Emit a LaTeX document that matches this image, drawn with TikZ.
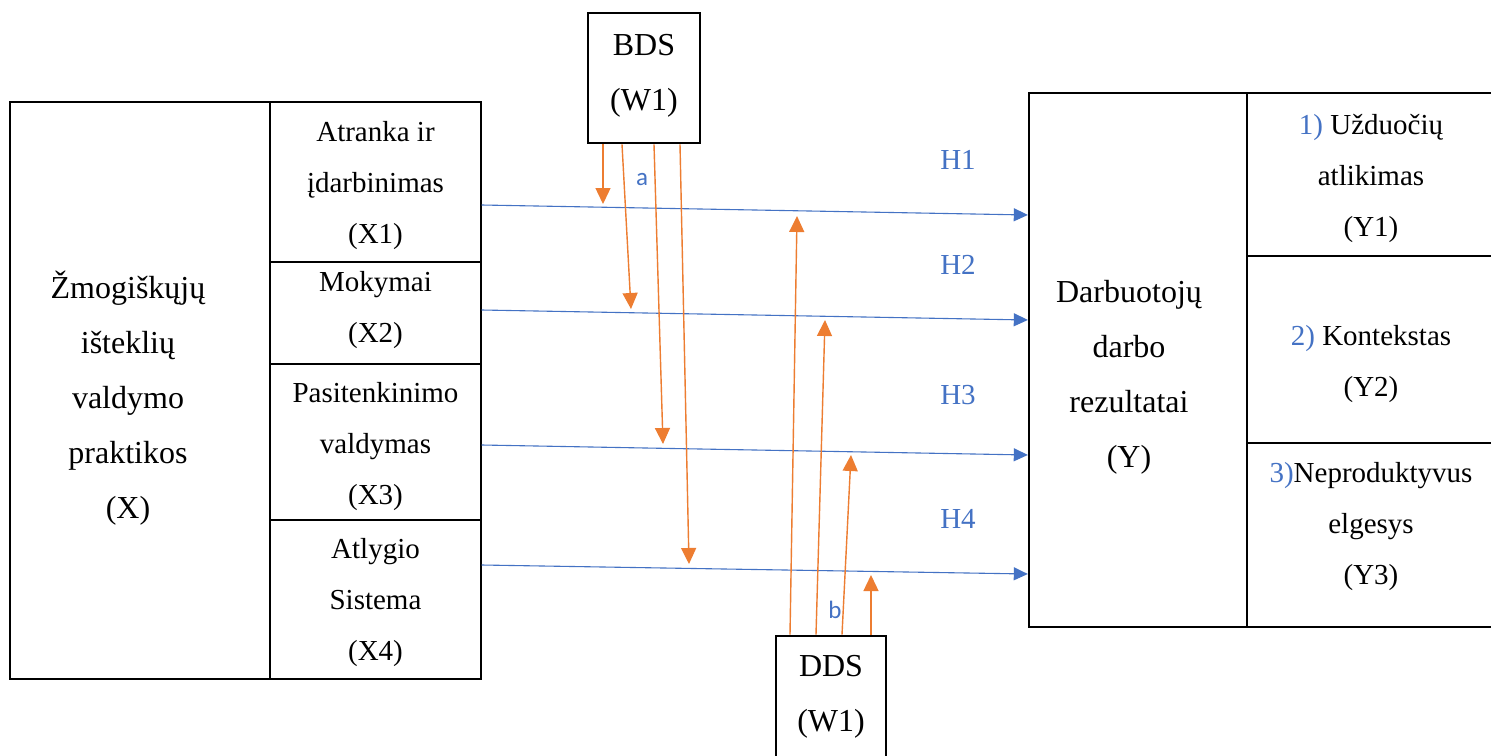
\documentclass[tikz,border=0pt]{standalone}
\usepackage{fontspec}
\setmainfont{Liberation Serif}
\newfontfamily\calib{Carlito}
\usetikzlibrary{arrows.meta}
\definecolor{bl}{HTML}{4472C4}
\definecolor{og}{HTML}{ED7D31}
\begin{document}
\begin{tikzpicture}[x=1pt,y=-1pt,
  txt/.style={font=\fontsize{29}{51}\selectfont, align=center, inner sep=0pt},
  bigtxt/.style={font=\fontsize{32}{55}\selectfont, align=center, inner sep=0pt},
  cell/.style={draw, line width=1.3pt, inner sep=0pt},
  outerbox/.style={draw, line width=2.4pt, inner sep=0pt},
  hlab/.style={font=\fontsize{29}{34}\selectfont, text=bl, inner sep=0pt},
  slab/.style={font=\calib\fontsize{25}{28}\selectfont, text=bl, inner sep=0pt},
  barrow/.style={draw=bl, line width=1.1pt, -{Triangle[width=13pt,length=14pt]}},
  oarrowtip/.style={draw=og, line width=1.4pt, -{Triangle[width=15pt,length=16pt]}, fill=og}]
\useasboundingbox (0,0) rectangle (1491,755);
\clip (0,0) rectangle (1491,755);
\fill[white] (0,0) rectangle (1491,755);

% left block
\node[cell, minimum width=211pt, minimum height=160pt] (x1) at (375.5,182) {};
\node[cell, minimum width=211pt, minimum height=102pt] (x2) at (375.5,313) {};
\node[cell, minimum width=211pt, minimum height=156pt] (x3) at (375.5,442) {};
\node[cell, minimum width=211pt, minimum height=159pt] (x4) at (375.5,599.5) {};
\node[outerbox, minimum width=471pt, minimum height=577pt] (xbox) at (245.5,390.5) {};
\node[txt] (x1t) at (375.5,186) {Atranka ir\\įdarbinimas\\(X1)};
\node[txt] (x2t) at (375.5,310.5) {Mokymai\\(X2)};
\node[txt] (x3t) at (375.5,447) {Pasitenkinimo\\valdymas\\(X3)};
\node[txt] (x4t) at (375.5,603) {Atlygio\\Sistema\\(X4)};
\node[bigtxt] (xlab) at (128,398) {Žmogiškųjų\\išteklių\\valdymo\\praktikos\\(X)};

% right block
\node[cell, minimum width=248pt, minimum height=163pt] (y1) at (1371,174.5) {};
\node[cell, minimum width=248pt, minimum height=187pt] (y2) at (1371,349.5) {};
\node[cell, minimum width=248pt, minimum height=184pt] (y3) at (1371,535) {};
\node[outerbox, minimum width=470pt, minimum height=534pt] (ybox) at (1264,360) {};
\node[txt] (y1t) at (1371,178) {\textcolor{bl}{1)} Užduočių\\atlikimas\\(Y1)};
\node[txt] (y2t) at (1371,364) {\textcolor{bl}{2)} Kontekstas\\(Y2)};
\node[txt] (y3t) at (1371,527) {\textcolor{bl}{3)}Neproduktyvus\\elgesys\\(Y3)};
\node[bigtxt] (ylab) at (1129,377) {Darbuotojų\\darbo\\rezultatai\\(Y)};

% moderators
\node[outerbox, line width=2.8pt, minimum width=112pt, minimum height=130pt] (bds) at (644,78) {};
\node[bigtxt] (bdslab) at (644,76) {BDS\\(W1)};
\node[outerbox, line width=2.8pt, minimum width=110pt, minimum height=140pt] (dds) at (831,706) {};
\node[bigtxt] (ddslab) at (831,697) {DDS\\(W1)};

% hypotheses arrows
\draw[barrow] (x1.east |- 0,205) -- (ybox.west |- 0,215);
\draw[barrow] (x2.east |- 0,310) -- (ybox.west |- 0,320);
\draw[barrow] (x3.east |- 0,445) -- (ybox.west |- 0,455);
\draw[barrow] (x4.east |- 0,565) -- (ybox.west |- 0,574);
\node[hlab] (h1) at (958,160) {H1};
\node[hlab] (h2) at (958,265) {H2};
\node[hlab] (h3) at (958,395) {H3};
\node[hlab] (h4) at (958,519) {H4};

% moderator arrows (BDS)
\coordinate (a1) at (603,204);
\coordinate (a2) at (631,309);
\coordinate (a3) at (663,444);
\coordinate (a4) at (689,564);
\draw[oarrowtip] (bds.south -| 603,0) -- (a1);
\draw[oarrowtip] (bds.south -| 622,0) -- (a2);
\draw[oarrowtip] (bds.south -| 654,0) -- (a3);
\draw[oarrowtip] (bds.south -| 680,0) -- (a4);
\node[slab] (alab) at (642,180) {a};

% moderator arrows (DDS)
\coordinate (b1) at (797,216);
\coordinate (b2) at (825,320);
\coordinate (b3) at (851,455);
\coordinate (b4) at (871,575);
\draw[oarrowtip] (dds.north -| 790,0) -- (b1);
\draw[oarrowtip] (dds.north -| 816,0) -- (b2);
\draw[oarrowtip] (dds.north -| 842,0) -- (b3);
\draw[oarrowtip] (dds.north -| 871,0) -- (b4);
\node[slab] (blab) at (835,610) {b};
\end{tikzpicture}
\end{document}
